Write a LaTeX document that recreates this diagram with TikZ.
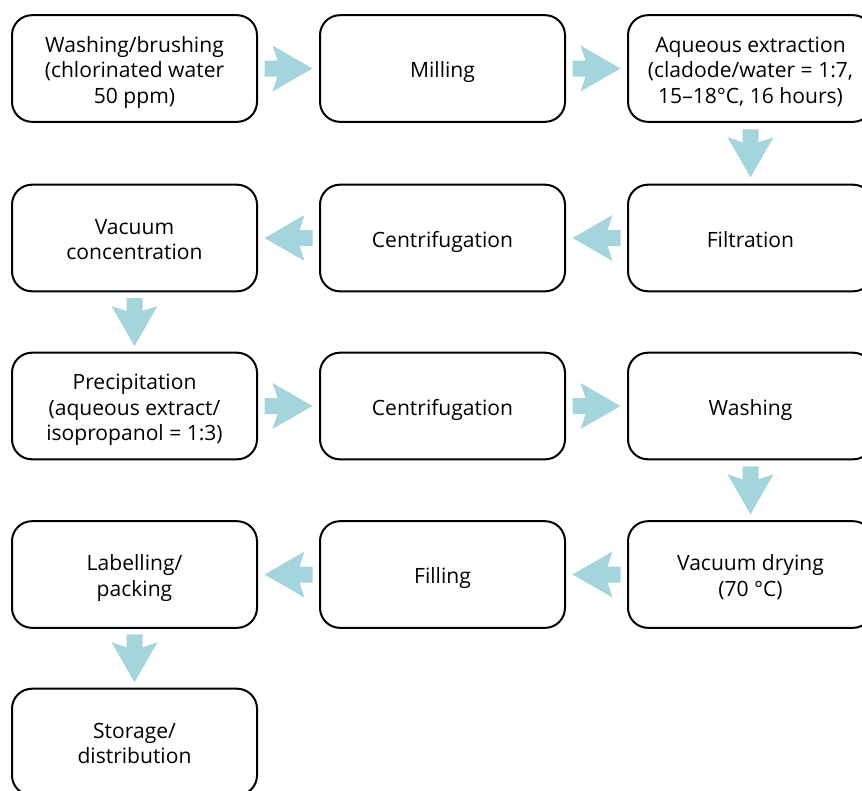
\documentclass[tikz,border=0pt]{standalone}
\usepackage{fontspec}
\setmainfont{Open Sans}
\usetikzlibrary{calc}
\definecolor{flowteal}{HTML}{A4D4DC}
% centred lines of a step, set 3pt below the middle of the box
\newcommand\steplines[1]{\raisebox{0pt}[\dimexpr\height+6pt\relax][\depth]{%
  \begin{tabular}{@{}c@{}}#1\end{tabular}}}
\begin{document}
\begin{tikzpicture}[x=0.75pt,y=-0.75pt,
  stepbox/.style={draw=black, line width=1.5pt, rounded corners=15pt,
    minimum width=183.75pt, minimum height=80pt,
    inner sep=2pt, font=\fontsize{15.8pt}{19.2pt}\selectfont},
  flowarr/.pic={\fill[flowteal] (-24,-8) -- (-11,-8) -- (-16,-23) -- (24,0)
     -- (-16,23) -- (-11,8) -- (-24,8) -- cycle;}]
  \fill[white] (0,0) rectangle (862,790);
  \useasboundingbox (0,0) rectangle (862,790);

  % row 1
  \node[stepbox] (wash)  at (134.5,68.5) {\steplines{Washing/brushing\\(chlorinated water\\50 ppm)}};
  \node[stepbox] (mill)  at (442.5,68.5) {\steplines{Milling}};
  \node[stepbox] (extr)  at (750.5,68.5) {\steplines{Aqueous extraction\\(cladode/water = 1:7,\\15–18°C, 16 hours)}};
  % row 2
  \node[stepbox] (filt)  at (750.5,238) {\steplines{Filtration}};
  \node[stepbox] (cenA)  at (442.5,238) {\steplines{Centrifugation}};
  \node[stepbox] (vconc) at (134.5,238) {\steplines{Vacuum\\concentration}};
  % row 3
  \node[stepbox] (prec)  at (134.5,406) {\steplines{Precipitation\\(aqueous extract/\\isopropanol = 1:3)}};
  \node[stepbox] (cenB)  at (442.5,406) {\steplines{Centrifugation}};
  \node[stepbox] (rins)  at (750.5,406) {\steplines{Washing}};
  % row 4
  \node[stepbox] (vdry)  at (750.5,574.5) {\steplines{Vacuum drying\\(70 °C)}};
  \node[stepbox] (fill)  at (442.5,574.5) {\steplines{Filling}};
  \node[stepbox] (label) at (134.5,574.5) {\steplines{Labelling/\\packing}};
  % row 5
  \node[stepbox] (store) at (134.5,742) {\steplines{Storage/\\distribution}};

  % block arrows between consecutive steps
  \pic at ($(wash.east)!0.5!(mill.west)$) {flowarr};
  \pic at ($(mill.east)!0.5!(extr.west)$) {flowarr};
  \pic[rotate=-90] at ($(extr.south)!0.5!(filt.north)$) {flowarr};
  \pic[rotate=180] at ($(filt.west)!0.5!(cenA.east)$) {flowarr};
  \pic[rotate=180] at ($(cenA.west)!0.5!(vconc.east)$) {flowarr};
  \pic[rotate=-90] at ($(vconc.south)!0.5!(prec.north)$) {flowarr};
  \pic at ($(prec.east)!0.5!(cenB.west)$) {flowarr};
  \pic at ($(cenB.east)!0.5!(rins.west)$) {flowarr};
  \pic[rotate=-90] at ($(rins.south)!0.5!(vdry.north)$) {flowarr};
  \pic[rotate=180] at ($(vdry.west)!0.5!(fill.east)$) {flowarr};
  \pic[rotate=180] at ($(fill.west)!0.5!(label.east)$) {flowarr};
  \pic[rotate=-90] at ($(label.south)!0.5!(store.north)$) {flowarr};
\end{tikzpicture}
\end{document}
